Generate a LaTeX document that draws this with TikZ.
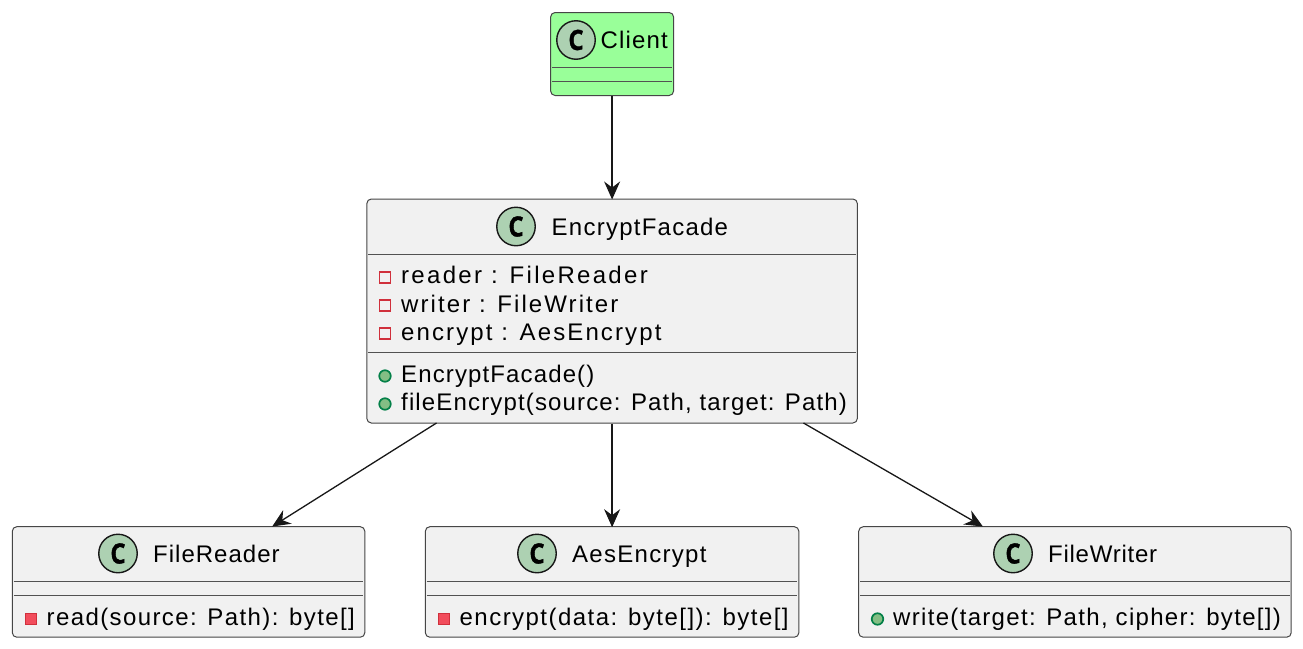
\documentclass[tikz,border=0pt]{standalone}
\usepackage{fontspec}
\setmainfont{Liberation Sans}
\newfontfamily\cfont{Open Sans}[FakeStretch=0.85,BoldFeatures={FakeBold=1.2}]
\usetikzlibrary{arrows.meta}
\definecolor{boxfill}{HTML}{F1F1F1}
\definecolor{boxline}{HTML}{181818}
\definecolor{clientfill}{HTML}{99FF99}
\definecolor{badge}{HTML}{ADD1B2}
\definecolor{privline}{HTML}{D0303C}
\definecolor{privfill}{HTML}{F24D5C}
\definecolor{publine}{HTML}{038048}
\definecolor{pubfill}{HTML}{84BE84}
\tikzset{
  x=1pt,y=-1pt,
  umlbox/.style={draw=boxline!80,line width=1pt,rounded corners=4.5pt,fill=boxfill,inner sep=0pt,anchor=north west},
  sepline/.style={draw=boxline!75,line width=1pt},
  badgec/.style={circle,draw=boxline,fill=badge,line width=1.4pt,minimum size=38.5pt,inner sep=0pt,font=\cfont\bfseries\fontsize{28}{28}\selectfont},
  lbl/.style={anchor=base west,inner sep=0pt,font=\fontsize{24}{24}\selectfont},
  privopen/.style={draw=privline,fill=boxfill,line width=1.7pt,minimum size=11pt,inner sep=0pt},
  privsolid/.style={draw=privline,fill=privfill,line width=1.7pt,minimum size=11pt,inner sep=0pt},
  pubdot/.style={circle,draw=publine,fill=pubfill,line width=1.7pt,minimum size=11.5pt,inner sep=0pt},
  conn/.style={draw=boxline,line width=1.3pt,shorten >=-1pt,-{Stealth[inset=6pt,length=18pt,width=16pt]}}
}
\newcommand{\spc}[1]{\addfontfeatures{LetterSpace=#1}}
\begin{document}
\begin{tikzpicture}
\useasboundingbox (0,0) rectangle (1303,648);
\fill[white] (0,0) rectangle (1303,648);
% boxes
\node[umlbox,fill=clientfill,minimum width=123pt,minimum height=83pt] (client) at (550.1,12) {};
\node[umlbox,minimum width=490.5pt,minimum height=224pt] (facade) at (366.35,198.5) {};
\node[umlbox,minimum width=352.5pt,minimum height=110.5pt] (reader) at (11.8,526.2) {};
\node[umlbox,minimum width=373.5pt,minimum height=110.5pt] (aes) at (424.85,526.2) {};
\node[umlbox,minimum width=432.5pt,minimum height=110.5pt] (writer) at (858.2,526.2) {};
% separators
\draw[sepline] (552,67.5) -- (672,67.5) (552,81) -- (672,81);
\draw[sepline] (368,254) -- (855.5,254) (368,352) -- (855.5,352);
\draw[sepline] (13.5,581.5) -- (363,581.5) (13.5,595) -- (363,595);
\draw[sepline] (426.5,581.5) -- (797,581.5) (426.5,595) -- (797,595);
\draw[sepline] (860,581.5) -- (1289.5,581.5) (860,595) -- (1289.5,595);
% badges
\node[badgec] (bclient) at (576,40) {C};
\node[badgec] (bfacade) at (516,226.5) {C};
\node[badgec] (breader) at (118,553.5) {C};
\node[badgec] (baes) at (537,553.5) {C};
\node[badgec] (bwriter) at (1013,553.5) {C};
% titles
\node[lbl] (tclient) at (600.5,48) {\spc{4.9}Client};
\node[lbl] (tfacade) at (551.5,235) {\spc{5.2}EncryptFacade};
\node[lbl] (treader) at (153,562) {\spc{4.2}FileReader};
\node[lbl] (taes) at (572,562) {\spc{5.4}AesEncrypt};
\node[lbl] (twriter) at (1048,562) {\spc{3.1}FileWriter};
% facade members
\node[privopen] (i1) at (385,277.4) {};
\node[privopen] (i2) at (385,305.6) {};
\node[privopen] (i3) at (385,333.5) {};
\node[pubdot] (i4) at (385,376) {};
\node[pubdot] (i5) at (385,404) {};
\node[lbl] (m1) at (401,283) {\spc{9.6}reader : FileReader};
\node[lbl] (m2) at (401,312) {\spc{8.7}writer : FileWriter};
\node[lbl] (m3) at (401,340) {\spc{8.8}encrypt : AesEncrypt};
\node[lbl] (m4) at (401,382) {\spc{4.7}EncryptFacade()};
\node[lbl] (m5) at (401,410) {\spc{4.8}fileEncrypt(source: Path, target: Path)};
% leaf members
\node[privsolid] (i6) at (31,619) {};
\node[privsolid] (i7) at (444,619) {};
\node[pubdot] (i8) at (877.5,619) {};
\node[lbl] (m6) at (46.5,625) {\spc{5.8}read(source: Path): byte[]};
\node[lbl] (m7) at (459.5,625) {\spc{6.1}encrypt(data: byte[]): byte[]};
\node[lbl] (m8) at (893,625) {\spc{5.5}write(target: Path, cipher: byte[])};
% connectors
\coordinate (fa) at (436.5,423);
\coordinate (fb) at (803.5,423);
\coordinate (ra) at (273,526);
\coordinate (wa) at (982,526);
\draw[conn] (client.south) -- (facade.north);
\draw[conn] (fa) -- (ra);
\draw[conn] (facade.south) -- (aes.north);
\draw[conn] (fb) -- (wa);
\end{tikzpicture}
\end{document}
